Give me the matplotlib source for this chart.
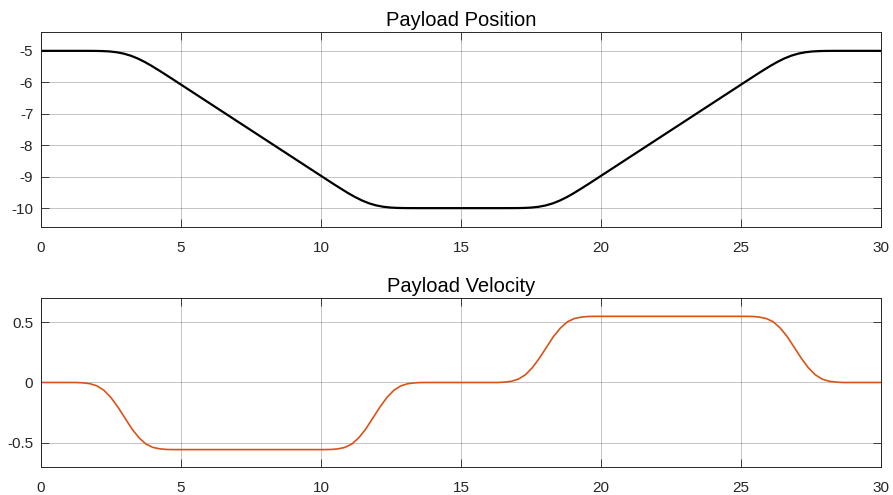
import matplotlib
matplotlib.use("Agg")
import matplotlib.pyplot as plt

# values
pos_t = [0, 1.0, 1.45, 1.7, 1.95, 2.2, 2.45, 2.7, 2.95, 3.2, 3.45, 3.7, 3.95,
         4.2, 4.45, 4.7, 4.95,
         9.97, 10.22, 10.47, 10.72, 10.97, 11.22, 11.47, 11.72, 11.97, 12.22,
         12.47, 12.72, 12.97, 13.22, 13.47, 15.0,
         16.53, 16.78, 17.03, 17.28, 17.53, 17.78, 18.03, 18.28, 18.53, 18.78,
         19.03, 19.28, 19.53, 19.78, 20.03,
         25.05, 25.3, 25.55, 25.8, 26.05, 26.3, 26.55, 26.8, 27.05, 27.3,
         27.55, 27.8, 28.05, 28.3, 28.55, 29.0, 30.0]
pos_y = [-5, -5, -5, -5.0004, -5.002, -5.007, -5.019, -5.044, -5.087, -5.152,
         -5.241, -5.351, -5.477, -5.614, -5.755, -5.899, -6.044,
         -8.956, -9.101, -9.245, -9.386, -9.523, -9.649, -9.759, -9.848,
         -9.913, -9.956, -9.981, -9.993, -9.998, -9.9996, -10, -10,
         -10, -9.9996, -9.998, -9.993, -9.981, -9.956, -9.913, -9.848, -9.759,
         -9.649, -9.523, -9.386, -9.245, -9.101, -8.956,
         -6.044, -5.899, -5.755, -5.614, -5.477, -5.351, -5.241, -5.152,
         -5.087, -5.044, -5.019, -5.007, -5.002, -5.0004, -5, -5, -5]

vel_t = [0, 1.0, 1.25, 1.5, 1.75, 2.0, 2.25, 2.5, 2.75, 3.0, 3.25, 3.5, 3.75,
         4.0, 4.25, 4.5, 4.75, 7.0,
         10.1, 10.35, 10.6, 10.85, 11.1, 11.35, 11.6, 11.85, 12.1, 12.35,
         12.6, 12.85, 13.1, 13.35, 13.6, 15.0,
         16.3, 16.55, 16.8, 17.05, 17.3, 17.55, 17.8, 18.05, 18.3, 18.55,
         18.8, 19.05, 19.3, 19.55, 19.8, 22.5,
         25.15, 25.4, 25.65, 25.9, 26.15, 26.4, 26.65, 26.9, 27.15, 27.4,
         27.65, 27.9, 28.15, 28.4, 28.65, 30.0]
vel_y = [0, 0, 0, -0.003, -0.01, -0.028, -0.065, -0.125, -0.205, -0.295,
         -0.385, -0.458, -0.51, -0.538, -0.55, -0.555, -0.556, -0.556,
         -0.556, -0.555, -0.55, -0.538, -0.51, -0.458, -0.385, -0.295, -0.205,
         -0.125, -0.065, -0.028, -0.01, -0.003, 0, 0,
         0, 0.003, 0.01, 0.028, 0.064, 0.123, 0.202, 0.291, 0.38, 0.451,
         0.503, 0.53, 0.542, 0.547, 0.548, 0.548,
         0.548, 0.547, 0.542, 0.53, 0.503, 0.451, 0.38, 0.291, 0.202, 0.123,
         0.064, 0.028, 0.01, 0.003, 0, 0]

x_ticks = [0, 5, 10, 15, 20, 25, 30]
pos_ticks = [-10, -9, -8, -7, -6, -5]
vel_ticks = [-0.5, 0, 0.5]

plt.rcParams['font.family'] = ['Liberation Sans', 'DejaVu Sans']
dark = '#262626'

fig = plt.figure(figsize=(8.93, 4.95), dpi=100)
ax1 = fig.add_axes([0.0459, 0.5414, 0.9407, 0.394])
ax2 = fig.add_axes([0.0459, 0.0566, 0.9407, 0.3414])


def style(ax, yticks, ylabels):
    ax.set_xlim(0, 30)
    ax.set_xticks(x_ticks)
    ax.set_xticklabels([str(v) for v in x_ticks])
    ax.set_yticks(yticks)
    ax.set_yticklabels(ylabels)
    ax.grid(True, color=dark, alpha=0.28, linewidth=0.7)
    ax.set_axisbelow(True)
    ax.tick_params(direction='in', length=6, width=0.6, color=dark,
                   labelcolor=dark, labelsize=11, top=True, right=True)
    ax.tick_params(axis='x', pad=10)
    ax.tick_params(axis='y', pad=5.5)
    for s in ax.spines.values():
        s.set_color(dark)
        s.set_linewidth(0.7)


ax1.plot(pos_t, pos_y, color='black', linewidth=1.6)
ax1.set_ylim(-10.6, -4.4)
style(ax1, pos_ticks, [str(v) for v in pos_ticks])
ax1.set_title('Payload Position', fontsize=14.5, color='black', pad=4)

ax2.plot(vel_t, vel_y, color='#D95319', linewidth=1.2)
ax2.set_ylim(-0.7, 0.7)
style(ax2, vel_ticks, ['-0.5', '0', '0.5'])
ax2.set_title('Payload Velocity', fontsize=14.5, color='black', pad=4)

fig.savefig('out.png', dpi=100)
